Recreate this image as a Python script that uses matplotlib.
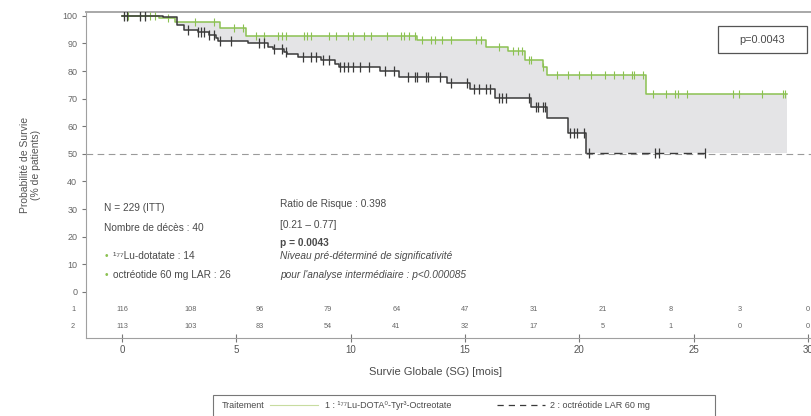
import numpy as np
import matplotlib
matplotlib.use("Agg")
import matplotlib.pyplot as plt
from matplotlib.patches import Rectangle
from matplotlib.lines import Line2D

plt.rcParams['font.family'] = ['Liberation Sans', 'DejaVu Sans']

# Kaplan-Meier steps (months, % survival)
lu_t = [0, 1.6, 2.3, 4.3, 5.4, 12.9, 15.9, 16.9, 17.6, 18.4, 18.6, 22.9]
lu_s = [100, 99.3, 97.8, 95.6, 92.8, 91.3, 88.9, 87.1, 84.1, 81.6, 78.6, 71.6]
lu_end = 29.1
lu_cens = [0.1, 0.25, 0.8, 1.0, 1.2, 1.45, 2.0, 3.2, 4.0, 4.9, 5.3, 5.85, 6.2,
           6.8, 7.0, 7.15, 7.95, 8.1, 8.25, 9.05, 9.35, 9.9, 10.1, 10.6, 10.9,
           11.6, 12.2, 12.35, 12.55, 12.8, 13.1, 13.5, 13.7, 14.0, 14.4, 15.5,
           15.7, 16.5, 17.1, 17.3, 17.5, 17.8, 17.9, 18.4, 19.0, 19.5, 20.0,
           20.5, 21.1, 21.5, 21.9, 22.3, 22.4, 22.8, 23.2, 23.8, 24.2, 24.3,
           24.7, 26.7, 27.0, 28.0, 28.9, 29.0]

oct_t = [0, 1.8, 2.4, 2.7, 3.3, 3.8, 4.1, 4.2, 5.5, 6.4, 6.6, 7.1, 7.2, 7.7,
         8.7, 9.3, 9.5, 11.3, 12.1, 14.2, 15.2, 16.3, 17.9, 18.6, 19.5, 20.3]
oct_s = [100, 99.5, 96.7, 94.9, 94.1, 93.1, 91.9, 91.0, 90.1, 88.7, 87.9, 86.8,
         86.2, 85.0, 84.1, 82.6, 81.6, 80.2, 77.8, 75.8, 73.4, 70.4, 67.1, 62.9,
         57.5, 50.4]
oct_end = 25.5
oct_cens = [0.1, 0.2, 0.8, 1.0, 2.9, 3.3, 3.45, 3.6, 3.8, 4.0, 4.3, 4.75, 6.0,
            6.2, 6.65, 7.0, 7.15, 7.9, 8.25, 8.5, 8.8, 9.05, 9.55, 9.7, 9.9,
            10.1, 10.4, 10.8, 11.5, 11.9, 12.5, 12.8, 12.9, 13.3, 13.4, 13.9,
            14.4, 15.1, 15.4, 15.6, 15.9, 16.1, 16.5, 16.6, 16.8, 17.8, 18.1,
            18.2, 18.4, 18.5, 19.6, 19.75, 19.9, 20.2, 20.4, 23.3, 23.5, 25.5]

# patients at risk
risk_times = [0, 3, 6, 9, 12, 15, 18, 21, 24, 27, 30]
risk_lu = [116, 108, 96, 79, 64, 47, 31, 21, 8, 3, 0]
risk_oct = [113, 103, 83, 54, 41, 32, 17, 5, 1, 0, 0]

green = '#8cc152'
dark = '#3a3a3a'
txt = '#4a4a4a'


def step_at(t, s, x):
    idx = np.searchsorted(t, x, side='right') - 1
    return np.asarray(s)[idx]


W, H = 811, 416
fig = plt.figure(figsize=(W / 100, H / 100), dpi=100)
ax = fig.add_axes([85.5 / W, 1 - 338 / H, 1 - 85.5 / W, (338 - 12) / H])
ax.set_xlim(-1.6, 30.13)
ax.set_ylim(-16.7, 101.4)

# shaded area between curves
grid = np.unique(np.concatenate([lu_t, oct_t, [lu_end]]))
ax.fill_between(grid, step_at(oct_t, oct_s, grid), step_at(lu_t, lu_s, grid),
                step='post', color='#e4e4e6', lw=0, zorder=1)

ax.axhline(50, color='#9a9a9a', lw=0.8, dashes=(6, 4), zorder=2)

ax.step(lu_t + [lu_end], lu_s + [lu_s[-1]], where='post', color=green, lw=1.1, zorder=3)
ax.plot(lu_cens, step_at(lu_t, lu_s, lu_cens), ls='none', marker='|', ms=6,
        mew=0.8, color=green, zorder=3)

ax.step(oct_t, oct_s, where='post', color=dark, lw=1.1, zorder=4)
ax.plot([oct_t[-1], oct_end], [oct_s[-1], oct_s[-1]], color=dark, lw=1.0,
        dashes=(6, 4), zorder=4)
ax.plot(oct_cens, step_at(oct_t, oct_s, oct_cens), ls='none', marker='|', ms=6.5,
        mew=0.9, color=dark, zorder=4)

# axes styling
ax.spines['right'].set_visible(False)
ax.spines['top'].set_color('#a8a8a8')
ax.spines['top'].set_linewidth(1.4)
ax.spines['left'].set_color('#a0a0a0')
ax.spines['bottom'].set_color('#a0a0a0')
ax.set_yticks(range(0, 101, 10))
ax.set_xticks(range(0, 31, 5))
ax.tick_params(axis='y', length=3, width=0.8, color='#777', labelsize=6.5,
               labelcolor='#666', pad=3)
ax.tick_params(axis='x', length=6, direction='inout', width=0.8, color='#777',
               labelsize=7, labelcolor='#555', pad=2)

ax.set_ylabel('Probabilité de Survie\n(% de patients)', fontsize=7.5, color='#555',
              linespacing=1.1)
ax.yaxis.set_label_coords(-0.062, 0.53)
ax.set_xlabel('Survie Globale (SG) [mois]', fontsize=8, color=txt)
ax.xaxis.set_label_coords(0.482, -0.088)

# at-risk table
for t, a, b in zip(risk_times, risk_lu, risk_oct):
    ax.text(t, -6.5, str(a), ha='center', va='center', fontsize=5.3, color='#666')
    ax.text(t, -12.7, str(b), ha='center', va='center', fontsize=5.3, color='#666')
ax.text(-2.14, -6.5, '1', ha='center', va='center', fontsize=5.3, color='#666', clip_on=False)
ax.text(-2.14, -12.7, '2', ha='center', va='center', fontsize=5.3, color='#666', clip_on=False)

# annotations
fs = 7.3
ax.text(-0.8, 30.4, 'N = 229 (ITT)', fontsize=fs, color=txt, va='center')
ax.text(-0.8, 23.2, 'Nombre de décès : 40', fontsize=fs, color=txt, va='center')
for y, lab in [(13.0, '¹⁷⁷Lu-dotatate : 14'), (6.2, 'octréotide 60 mg LAR : 26')]:
    ax.text(-0.75, y, '•', fontsize=fs, color=green, va='center')
    ax.text(-0.4, y, lab, fontsize=fs, color=txt, va='center')

x2 = 6.9
ax.text(x2, 32.0, 'Ratio de Risque : 0.398', fontsize=fs, color=txt, va='center')
ax.text(x2, 24.1, '[0.21 – 0.77]', fontsize=fs, color=txt, va='center')
ax.text(x2, 17.6, 'p = 0.0043', fontsize=fs, color=txt, va='center', fontweight='bold')
ax.text(x2, 13.0, 'Niveau pré-déterminé de significativité', fontsize=fs, color=txt,
        va='center', style='italic')
ax.text(x2, 6.2, "pour l'analyse intermédiaire : p<0.000085", fontsize=fs, color=txt,
        va='center', style='italic')

# p-value box
fig.patches.append(Rectangle((718 / W, 1 - 53 / H), 89 / W, 27 / H, transform=fig.transFigure,
                             fill=False, edgecolor='#555', lw=0.9))
fig.text(762 / W, 1 - 40 / H, 'p=0.0043', ha='center', va='center', fontsize=7.8, color=txt)

# legend strip at bottom
fig.patches.append(Rectangle((213 / W, -0.02), 502 / W, 1 - 395 / H + 0.02,
                             transform=fig.transFigure, fill=False, edgecolor='#777', lw=0.8))
ly = 1 - 405 / H
fig.text(222 / W, ly, 'Traitement', fontsize=6.5, color=txt, va='center')
fig.lines.append(Line2D([270 / W, 318 / W], [ly, ly], transform=fig.transFigure,
                        color='#c8dca0', lw=0.8))
fig.text(325 / W, ly, '1 : ¹⁷⁷Lu-DOTA⁰-Tyr³-Octreotate', fontsize=6.5, color=txt, va='center')
fig.lines.append(Line2D([497 / W, 545 / W], [ly, ly], transform=fig.transFigure,
                        color=dark, lw=0.9, dashes=(5, 4)))
fig.text(550 / W, ly, '2 : octréotide LAR 60 mg', fontsize=6.5, color=txt, va='center')

fig.savefig('out.png', dpi=100)
